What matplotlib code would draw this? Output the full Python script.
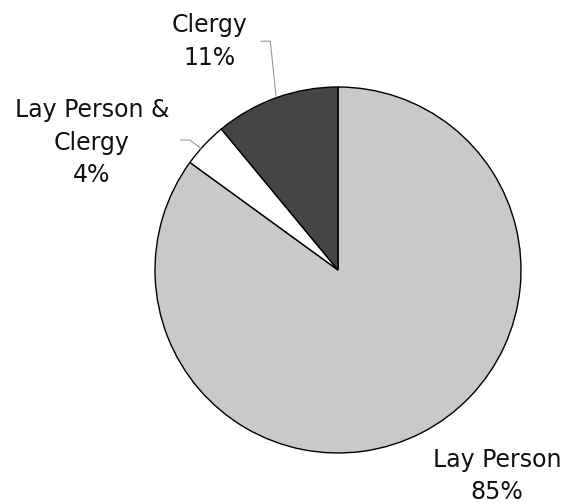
import matplotlib.pyplot as plt
import numpy as np

labels = ['Lay Person', 'Lay Person &\nClergy', 'Clergy']
shares = [85, 4, 11]
colors = ['#c9c9c9', '#ffffff', '#454545']

# label text positions (data units, pie radius = 1)
text_pos = [(0.87, -1.125), (-1.345, 0.695), (-0.70, 1.25)]

fig = plt.figure(figsize=(5.71, 5.03), dpi=100)
ax = fig.add_axes([0, 0, 1, 1])

wedges, _ = ax.pie(shares, colors=colors, startangle=90, counterclock=False,
                   wedgeprops=dict(edgecolor='black', linewidth=1.0))

for i, w in enumerate(wedges):
    pct = f'{shares[i]}%'
    tx, ty = text_pos[i]
    ax.text(tx, ty, labels[i] + '\n' + pct, ha='center', va='center',
            fontsize=17, linespacing=1.45, color='#111111')

# leader lines
mid = [np.deg2rad((w.theta1 + w.theta2) / 2) for w in wedges]
# Lay Person & Clergy
a = mid[1]
ax.plot([np.cos(a) * 1.0 - 0.02, -0.81, -0.86], [np.sin(a) * 1.0 - 0.02, 0.71, 0.71],
        color='#999999', lw=0.8)
# Clergy
a = mid[2]
ax.plot([np.cos(a) * 1.0, -0.37, -0.42], [np.sin(a) * 1.0 + 0.01, 1.25, 1.25],
        color='#999999', lw=0.8)

ax.set_xlim(-338 / 183, (571 - 338) / 183)
ax.set_ylim(-(503 - 270) / 183, 270 / 183)
ax.set_aspect('equal')
ax.axis('off')

fig.savefig('out.png', dpi=100)
